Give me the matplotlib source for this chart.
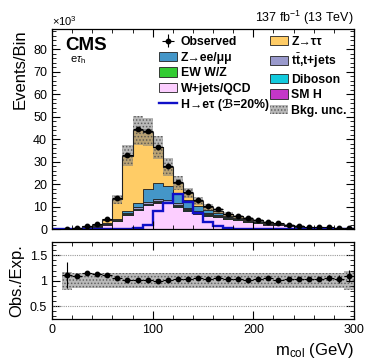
import numpy as np
import matplotlib
matplotlib.use('Agg')
import matplotlib.pyplot as plt
from matplotlib.ticker import MultipleLocator

plt.rcParams['font.family'] = ['Liberation Sans', 'DejaVu Sans']
plt.rcParams['mathtext.fontset'] = 'custom'
plt.rcParams['mathtext.rm'] = 'Liberation Sans'
plt.rcParams['mathtext.it'] = 'Liberation Sans:italic'
plt.rcParams['mathtext.bf'] = 'Liberation Sans:bold'
plt.rcParams['hatch.linewidth'] = 0.7

# m_col bins (GeV), 10 GeV wide, yields in units of 10^3 events
edges = np.arange(0, 310, 10)
observed = [np.nan, 0.2, 0.6, 1.3, 2.1, 4.4, 13.9, 32.9, 44.3, 43.7, 36.3, 28.2, 21.1, 16.6, 12.9,
            10.2, 8.7, 6.8, 5.8, 4.7, 4.0, 3.1, 2.5, 1.9, 1.5, 1.0, 0.8, 0.7, 0.6, 0.5]
observed_err = [np.nan, 0.045, 0.02, 0.03, 0.04, 0.06, 0.12, 0.18, 0.21, 0.21, 0.19, 0.17, 0.15, 0.13, 0.11,
                0.1, 0.09, 0.08, 0.08, 0.07, 0.06, 0.06, 0.05, 0.04, 0.04, 0.035, 0.03, 0.04, 0.04, 0.055]
wjets_qcd = [0, 0.09, 0.3, 0.6, 1.0, 2.0, 3.4, 6.2, 8.4, 10.6, 11.7, 11.4, 9.9, 8.0, 6.9,
             5.9, 5.2, 4.4, 3.8, 3.1, 2.6, 2.0, 1.65, 1.25, 1.0, 0.66, 0.54, 0.45, 0.4, 0.31]
sm_higgs = [0, 0, 0, 0.01, 0.01, 0.02, 0.05, 0.05, 0.06, 0.08, 0.1, 0.08, 0.08, 0.08, 0.06,
            0.06, 0.05, 0.05, 0.04, 0.03, 0.03, 0.02, 0.02, 0.01, 0.01, 0.01, 0.01, 0.01, 0, 0]
diboson = [0, 0, 0.01, 0.02, 0.03, 0.06, 0.18, 0.18, 0.24, 0.27, 0.3, 0.3, 0.3, 0.3, 0.24,
           0.22, 0.2, 0.18, 0.16, 0.14, 0.12, 0.1, 0.08, 0.06, 0.05, 0.03, 0.02, 0.02, 0.02, 0.02]
ewk_wz = [0, 0.01, 0.02, 0.03, 0.04, 0.09, 0.27, 0.27, 0.35, 0.4, 0.45, 0.42, 0.42, 0.42, 0.35,
          0.32, 0.3, 0.27, 0.24, 0.21, 0.18, 0.15, 0.12, 0.09, 0.08, 0.04, 0.04, 0.03, 0.03, 0.02]
ttbar = [0, 0.01, 0.02, 0.04, 0.07, 0.13, 0.4, 0.4, 0.55, 0.65, 0.75, 0.7, 0.7, 0.7, 0.55,
         0.5, 0.45, 0.4, 0.36, 0.32, 0.27, 0.23, 0.18, 0.14, 0.11, 0.07, 0.05, 0.05, 0.05, 0.04]
z_ll = [0, 0.02, 0.05, 0.1, 0.15, 0.2, 0.3, 0.8, 1.8, 5.8, 7.3, 6.2, 4.7, 3.3, 2.1,
        1.4, 1.0, 0.62, 0.5, 0.42, 0.35, 0.23, 0.2, 0.15, 0.11, 0.08, 0.06, 0.05, 0.04, 0.04]
z_tautau = [0, 0.05, 0.15, 0.32, 0.56, 1.46, 8.64, 24.67, 32.46, 25.47, 15.7, 8.55, 4.39, 3.32, 2.09,
            1.5, 1.01, 0.62, 0.48, 0.39, 0.3, 0.22, 0.2, 0.14, 0.1, 0.07, 0.06, 0.05, 0.04, 0.03]
signal = [0, 0, 0, 0, 0, 0, 0, 0, 0.5, 2.0, 8.0, 11.5, 15.5, 11.8, 7.3,
          3.2, 1.2, 0.5, 0.2, 0.1, 0.05, 0, 0, 0, 0, 0, 0, 0, 0, 0]
unc_frac = [0, 0.18, 0.15, 0.145, 0.145, 0.145, 0.145, 0.145, 0.145, 0.145, 0.145, 0.145, 0.145, 0.145, 0.145,
            0.145, 0.145, 0.145, 0.145, 0.145, 0.145, 0.145, 0.145, 0.145, 0.145, 0.145, 0.145, 0.145, 0.145, 0.19]

lab_ztt = 'Z\u2192\u03c4\u03c4'
lab_zll = 'Z\u2192ee/\u03bc\u03bc'
lab_tt = r'$\mathbf{t}\bar{\mathbf{t}}$,t+jets'
lab_sig = 'H\u2192e\u03c4 (\u212c=20%)'

stack = [
    (wjets_qcd, '#fcceff', 'W+jets/QCD'),
    (sm_higgs, '#c436c8', 'SM H'),
    (diboson, '#12cadd', 'Diboson'),
    (ewk_wz, '#33cc33', 'EW W/Z'),
    (ttbar, '#9999cc', lab_tt),
    (z_ll, '#4496c8', lab_zll),
    (z_tautau, '#ffcc66', lab_ztt),
]

unc_face = (0.5, 0.5, 0.5, 0.55)
unc_hatch = (0.3, 0.3, 0.3, 0.8)

fig = plt.figure(figsize=(3.74, 3.63), dpi=100)
ax = fig.add_axes([0.139, 0.3691, 0.8075, 0.551])
rax = fig.add_axes([0.139, 0.1212, 0.8075, 0.2121])

centers = 0.5 * (edges[1:] + edges[:-1])
obs = np.array(observed)
obs_err = np.array(observed_err)

# stacked backgrounds
handles = {}
base = np.zeros(len(centers))
for vals, col, lab in stack:
    top = base + np.array(vals)
    h = ax.stairs(top, edges, baseline=base.copy(), fill=True, facecolor=col,
                  edgecolor='#222222', linewidth=0.6, label=lab)
    handles[lab] = h
    base = top
total = base

frac = np.array(unc_frac)
hu = ax.stairs(total * (1 + frac), edges, baseline=total * (1 - frac), fill=True,
               facecolor=unc_face, edgecolor=unc_hatch, hatch='.....', linewidth=0,
               label='Bkg. unc.')
ax.stairs(total, edges, color='#222222', linewidth=0.8)

hs = ax.stairs(signal, edges, color='#1010c8', linewidth=1.7, label=lab_sig)

ho = ax.errorbar(centers, obs, yerr=obs_err, xerr=5, fmt='o', color='black', ms=3.2,
                 elinewidth=0.8, capsize=0, label='Observed')

ax.set_xlim(0, 300)
ax.set_ylim(0, 89)
ax.yaxis.set_major_locator(MultipleLocator(10))
ax.yaxis.set_minor_locator(MultipleLocator(2))
ax.xaxis.set_major_locator(MultipleLocator(100))
ax.xaxis.set_minor_locator(MultipleLocator(20))
ax.tick_params(labelbottom=False)
ax.set_ylabel('Events/Bin', fontsize=12, loc='top')

for a in (ax, rax):
    a.tick_params(which='both', direction='in', top=True, right=True, labelsize=9)
    a.tick_params(which='major', length=6, width=0.8)
    a.tick_params(which='minor', length=3, width=0.6)
    for s in a.spines.values():
        s.set_linewidth(0.9)

ax.text(0.0, 1.005, r'$\times10^{3}$', transform=ax.transAxes, ha='left', va='bottom', fontsize=8)
ax.text(1.0, 1.01, r'137 fb$^{-1}$ (13 TeV)', transform=ax.transAxes, ha='right', va='bottom', fontsize=9)
ax.text(0.045, 0.96, 'CMS', transform=ax.transAxes, ha='left', va='top', fontsize=13.5, fontweight='bold')
ax.text(0.06, 0.875, r'e$\tau_{\mathrm{h}}$', transform=ax.transAxes, ha='left', va='top', fontsize=8)

order = ['Observed', lab_zll, 'EW W/Z', 'W+jets/QCD', lab_sig,
         lab_ztt, lab_tt, 'Diboson', 'SM H', 'Bkg. unc.']
handles['Observed'] = ho
handles['Bkg. unc.'] = hu
handles[lab_sig] = hs
leg = ax.legend([handles[k] for k in order], order, ncol=2, loc='upper left',
                bbox_to_anchor=(0.355, 0.965), frameon=False, fontsize=8.8,
                handlelength=1.45, handleheight=0.8, handletextpad=0.3,
                columnspacing=0.1, labelspacing=0.3, borderaxespad=0, borderpad=0)
for t in leg.get_texts():
    t.set_fontweight('bold')

# ratio panel
ratio = obs / np.where(total > 0, total, np.nan)
ratio_err = obs_err / np.where(total > 0, total, np.nan)
rband = np.where(total > 0, frac, np.nan)
rax.stairs(1 + rband, edges, baseline=1 - rband, fill=True,
           facecolor=unc_face, edgecolor=unc_hatch, hatch='.....', linewidth=0)
for yv in (0.5, 1.5):
    rax.axhline(yv, color='#999999', linestyle=(0, (1, 1)), linewidth=0.8)
rax.errorbar(centers, ratio, yerr=ratio_err, xerr=5, fmt='o', color='black', ms=3.2,
             elinewidth=0.8, capsize=0)
rax.set_xlim(0, 300)
rax.set_ylim(0.25, 1.76)
rax.yaxis.set_minor_locator(MultipleLocator(0.1))
rax.xaxis.set_major_locator(MultipleLocator(100))
rax.xaxis.set_minor_locator(MultipleLocator(20))
rax.set_yticks([0.5, 1.0, 1.5])
rax.set_yticklabels(['0.5', '1', '1.5'])
rax.set_ylabel('Obs./Exp.', fontsize=12)
rax.set_xlabel(r'm$_{\mathrm{col}}$ (GeV)', fontsize=12, loc='right')

fig.align_ylabels([ax, rax])
fig.savefig('out.png', dpi=100)
